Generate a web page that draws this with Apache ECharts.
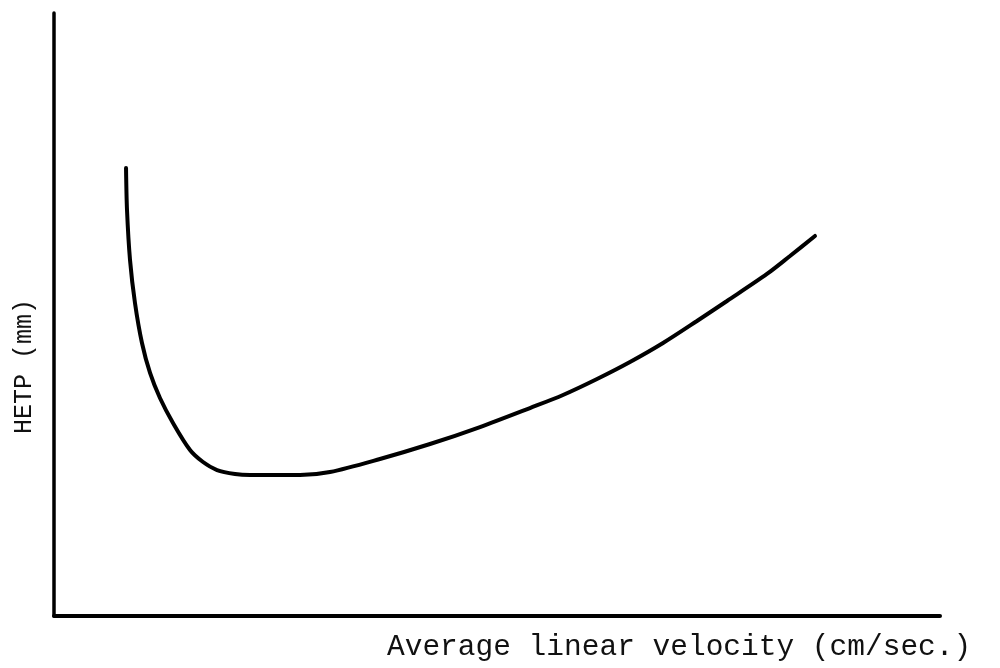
<!DOCTYPE html>
<html>
<head>
<meta charset="utf-8">
<script src="https://cdn.jsdelivr.net/npm/echarts@6/dist/echarts.min.js"></script>
<style>
  html, body { margin: 0; padding: 0; background: #ffffff; }
  #chart { width: 1000px; height: 668px; }
</style>
</head>
<body>
<div id="chart"></div>
<script>
// HETP versus average linear velocity (van Deemter-shaped curve), arbitrary units
const velocity = [8.13, 8.24, 8.58, 9.14, 9.93, 10.84, 11.96, 13.43, 15.35, 16.82, 18.40,
                  20.43, 22.12, 27.77, 31.15, 36.79, 42.44, 48.08, 53.72, 57.45, 61.29,
                  65.01, 68.74, 72.57, 75.96, 80.47, 83.07, 85.89];
const hetp = [74.30, 67.33, 59.04, 51.91, 45.27, 40.30, 36.15, 32.01, 27.53, 25.54, 24.21,
              23.55, 23.38, 23.38, 23.88, 26.04, 28.52, 31.34, 34.49, 36.65, 39.30,
              42.12, 45.27, 48.92, 52.24, 56.72, 59.70, 63.02];
const xTitle = 'Average linear velocity (cm/sec.)';
const yTitle = 'HETP (mm)';

const points = velocity.map((v, i) => [v, hetp[i]]);
const font = '"Liberation Mono", "Courier New", monospace';

const chart = echarts.init(document.getElementById('chart'), null, { renderer: 'canvas' });
chart.setOption({
  animation: false,
  backgroundColor: '#ffffff',
  grid: { left: 54, right: 60, top: 13, bottom: 52 },
  xAxis: {
    type: 'value', min: 0, max: 100,
    axisLine: { show: true, lineStyle: { color: '#000', width: 4 } },
    axisTick: { show: false }, axisLabel: { show: false }, splitLine: { show: false }
  },
  yAxis: {
    type: 'value', min: 0, max: 100,
    axisLine: { show: true, lineStyle: { color: '#000', width: 3.5 } },
    axisTick: { show: false }, axisLabel: { show: false }, splitLine: { show: false }
  },
  series: [{
    type: 'line',
    data: points,
    smooth: 0.3,
    showSymbol: false,
    lineStyle: { color: '#000', width: 4, cap: 'round' }
  }],
  graphic: [
    {
      type: 'text', left: 387, top: 632,
      style: { text: xTitle, font: '29.5px ' + font, fill: '#111' }
    },
    {
      type: 'text', x: 12, y: 434, rotation: Math.PI / 2,
      style: { text: yTitle, font: '25px ' + font, fill: '#111' }
    }
  ]
});
</script>
</body>
</html>
